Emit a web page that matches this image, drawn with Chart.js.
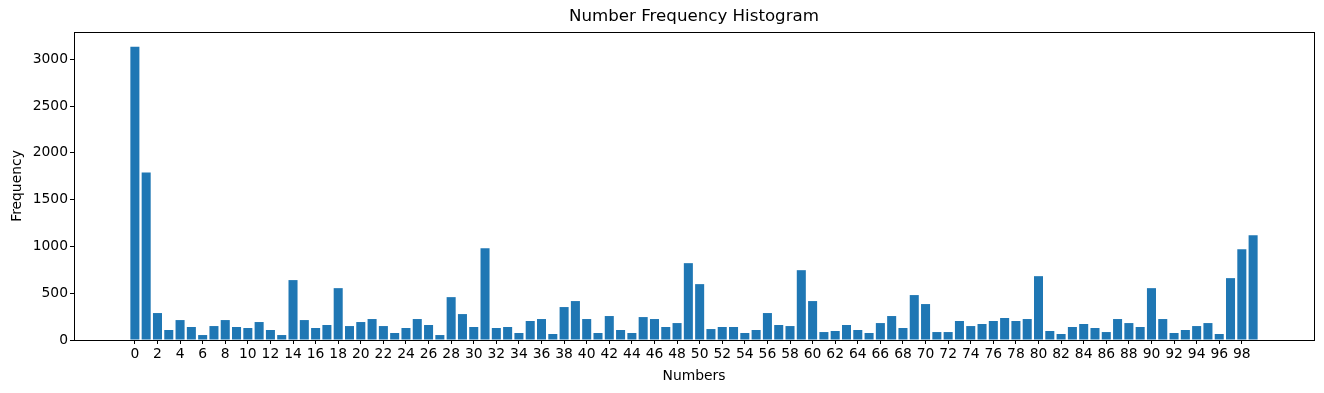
<!DOCTYPE html>
<html>
<head>
<meta charset="utf-8">
<script src="https://cdn.jsdelivr.net/npm/chart.js@4/dist/chart.umd.min.js"></script>
<style>
  html, body { margin: 0; padding: 0; background: #fff; }
  #wrap { width: 1324px; height: 393px; }
</style>
</head>
<body>
<div id="wrap"><canvas id="histo"></canvas></div>
<script>
const numbers = [
   0,  1,  2,  3,  4,  5,  6,  7,  8,  9,
  10, 11, 12, 13, 14, 15, 16, 17, 18, 19,
  20, 21, 22, 23, 24, 25, 26, 27, 28, 29,
  30, 31, 32, 33, 34, 35, 36, 37, 38, 39,
  40, 41, 42, 43, 44, 45, 46, 47, 48, 49,
  50, 51, 52, 53, 54, 55, 56, 57, 58, 59,
  60, 61, 62, 63, 64, 65, 66, 67, 68, 69,
  70, 71, 72, 73, 74, 75, 76, 77, 78, 79,
  80, 81, 82, 83, 84, 85, 86, 87, 88, 89,
  90, 91, 92, 93, 94, 95, 96, 97, 98, 99
];
const frequencies = [
  3134, 1790, 288, 107, 213, 139,  53, 149, 213, 139,
   128,  192, 107,  53, 640, 213, 128, 160, 554, 149,
   192,  224, 149,  75, 128, 224, 160,  53, 458, 277,
   139,  981, 128, 139,  75, 203, 224,  64, 352, 416,
   224,   75, 256, 107,  75, 245, 224, 139, 181, 821,
   597,  117, 139, 139,  75, 107, 288, 160, 149, 746,
   416,   85,  96, 160, 107,  75, 181, 256, 128, 480,
   384,   85,  85, 203, 149, 171, 203, 235, 203, 224,
   682,   96,  64, 139, 171, 128,  85, 224, 181, 139,
   554,  224,  75, 107, 149, 181,  64, 661, 970, 1120
];
const xTickLabels = [
   0,  2,  4,  6,  8, 10, 12, 14, 16, 18, 20, 22, 24, 26, 28, 30, 32, 34, 36, 38,
  40, 42, 44, 46, 48, 50, 52, 54, 56, 58, 60, 62, 64, 66, 68, 70, 72, 74, 76, 78,
  80, 82, 84, 86, 88, 90, 92, 94, 96, 98
];
const yTickLabels = [0, 500, 1000, 1500, 2000, 2500, 3000];
const titre = 'Number Frequency Histogram';

const FONT = "'DejaVu Sans', sans-serif";
const maxFreq = Math.max(...frequencies);

// cadre noir autour de la zone de tracé + titre centré sur les axes (comme matplotlib)
const cadre = {
  id: 'cadre',
  afterDraw(chart) {
    const a = chart.chartArea;
    const ctx = chart.ctx;
    ctx.save();
    ctx.strokeStyle = '#000';
    ctx.lineWidth = 1;
    ctx.strokeRect(Math.round(a.left) + 0.5, Math.round(a.top) + 0.5,
                   Math.round(a.right - a.left), Math.round(a.bottom - a.top));
    ctx.fillStyle = '#000';
    ctx.font = "16.67px " + FONT;
    ctx.textAlign = 'center';
    ctx.textBaseline = 'middle';
    ctx.fillText(titre, (a.left + a.right) / 2, 17);
    ctx.restore();
  }
};

document.addEventListener('DOMContentLoaded', function() {
  const ctx = document.getElementById('histo');
  new Chart(ctx, {
    type: 'bar',
    data: {
      datasets: [{
        data: numbers.map((n, i) => ({ x: n, y: frequencies[i] })),
        backgroundColor: '#1f77b4',
        borderWidth: 0,
        barPercentage: 0.8,
        categoryPercentage: 1.0
      }]
    },
    options: {
      responsive: true,
      maintainAspectRatio: false,
      animation: false,
      layout: { padding: { left: 0, right: 10, top: 32, bottom: 0 } },
      scales: {
        x: {
          type: 'linear',
          offset: false,
          min: -5.39,
          max: 104.39,
          afterBuildTicks: scale => {
            scale.ticks = xTickLabels.map(v => ({ value: v }));
          },
          afterFit: scale => { scale.height = 53; },
          ticks: {
            autoSkip: false,
            maxRotation: 0,
            includeBounds: false,
            padding: 2,
            color: '#000',
            font: { family: FONT, size: 13.89 },
            callback: v => String(v)
          },
          grid: {
            display: true,
            offset: false,
            drawOnChartArea: false,
            drawTicks: true,
            tickLength: 4,
            color: '#000'
          },
          border: { display: true, color: '#000', width: 1 },
          title: {
            display: true,
            text: 'Numbers',
            color: '#000',
            font: { family: FONT, size: 13.89 },
            padding: { top: 0, bottom: 8 }
          }
        },
        y: {
          min: 0,
          max: maxFreq * 1.05,
          afterBuildTicks: scale => {
            scale.ticks = yTickLabels.map(v => ({ value: v }));
          },
          afterFit: scale => { scale.width = 74; },
          ticks: {
            includeBounds: false,
            padding: 2,
            color: '#000',
            font: { family: FONT, size: 13.89 },
            callback: v => String(v)
          },
          grid: {
            display: true,
            drawOnChartArea: false,
            drawTicks: true,
            tickLength: 4,
            color: '#000'
          },
          border: { display: true, color: '#000', width: 1 },
          title: {
            display: true,
            text: 'Frequency',
            color: '#000',
            font: { family: FONT, size: 13.89 },
            padding: { top: 9, bottom: 0 }
          }
        }
      },
      plugins: {
        legend: { display: false },
        tooltip: { enabled: false },
        title: { display: false }
      }
    },
    plugins: [cadre]
  });
});
</script>
</body>
</html>
